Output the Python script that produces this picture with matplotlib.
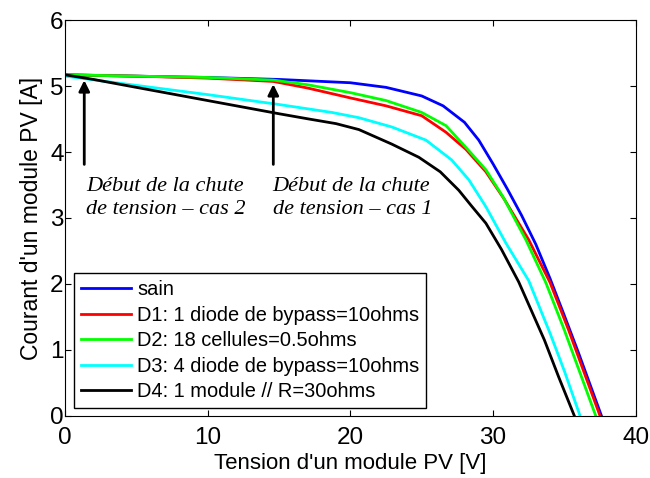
import numpy as np
import matplotlib
matplotlib.use("Agg")
import matplotlib.pyplot as plt

# courbes I-V (tension en V, courant en A)
v_sain = [0, 5, 10, 15, 20, 22.5, 25, 26.5, 28, 29, 30, 31, 32, 33, 34, 35, 36, 37.6]
i_sain = [5.17, 5.15, 5.13, 5.10, 5.05, 4.98, 4.85, 4.70, 4.45, 4.18, 3.82, 3.44, 3.04, 2.60, 2.08, 1.52, 0.95, 0]

v_d1 = [0, 5, 10, 14.6, 17, 20, 22.5, 25, 26.7, 28.1, 29.5, 30.8, 32.5, 34.0, 35.3, 36.4, 37.5]
i_d1 = [5.17, 5.15, 5.12, 5.07, 4.97, 4.82, 4.70, 4.55, 4.30, 4.04, 3.70, 3.28, 2.67, 2.02, 1.30, 0.65, 0]

v_d2 = [0, 5, 10, 14.6, 17, 20, 22.5, 25, 26.7, 28.1, 29.5, 30.7, 32.3, 33.7, 35.0, 36.1, 37.2]
i_d2 = [5.17, 5.15, 5.13, 5.09, 5.02, 4.90, 4.78, 4.60, 4.40, 4.07, 3.73, 3.32, 2.67, 2.02, 1.30, 0.65, 0]

v_d3 = [0, 5, 10, 15, 18.7, 20.6, 22.9, 25.3, 27.1, 28.3, 29.5, 30.9, 32.5, 34.0, 35.0, 36.1]
i_d3 = [5.15, 5.01, 4.87, 4.72, 4.60, 4.52, 4.38, 4.18, 3.88, 3.58, 3.17, 2.62, 2.05, 1.25, 0.68, 0]

v_d4 = [0, 2, 5, 10, 15, 17.1, 19, 20.6, 22.9, 24.8, 26.3, 27.6, 28.5, 29.5, 30.6, 31.8, 33.6, 34.6, 35.7]
i_d4 = [5.17, 5.10, 4.98, 4.78, 4.58, 4.50, 4.43, 4.34, 4.12, 3.92, 3.70, 3.42, 3.18, 2.92, 2.52, 2.03, 1.15, 0.59, 0]

labels = ["sain",
          "D1: 1 diode de bypass=10ohms",
          "D2: 18 cellules=0.5ohms",
          "D3: 4 diode de bypass=10ohms",
          "D4: 1 module // R=30ohms"]
couleurs = ["#0000ff", "#ff0000", "#00ff00", "#00ffff", "#000000"]

plt.rcParams["font.family"] = ["Liberation Sans", "DejaVu Sans"]

fig = plt.figure(figsize=(6.5, 4.78), dpi=100)
ax = fig.add_axes([0.1, 0.13, 0.878, 0.828])

series = [(v_sain, i_sain), (v_d1, i_d1), (v_d2, i_d2), (v_d3, i_d3), (v_d4, i_d4)]
for (v, i), c, lab in zip(series, couleurs, labels):
    ax.plot(v, i, color=c, lw=2, label=lab)

ax.set_xlim(0, 40)
ax.set_ylim(0, 6)
ax.set_xticks(np.arange(0, 41, 10))
ax.set_yticks(np.arange(0, 7, 1))
ax.tick_params(direction="in", top=True, right=True, length=4, labelsize=17.5)
ax.tick_params(axis="x", pad=8)
ax.tick_params(axis="y", pad=1)
ax.set_xlabel("Tension d'un module PV [V]", fontsize=16, labelpad=3)
ax.set_ylabel("Courant d'un module PV [A]", fontsize=16.5, labelpad=5)

# fleches et textes
fleche = dict(arrowstyle="-|>", color="black", lw=2, mutation_scale=16)
ax.annotate("", xy=(1.35, 5.13), xytext=(1.35, 3.77), arrowprops=fleche)
ax.annotate("", xy=(14.6, 5.07), xytext=(14.6, 3.77), arrowprops=fleche)
police_txt = dict(family=["Liberation Serif"], style="italic", fontsize=16)
ax.text(1.5, 3.62, "Début de la chute\nde tension – cas 2", ha="left", va="top",
        linespacing=1.3, **police_txt)
ax.text(14.55, 3.62, "Début de la chute\nde tension – cas 1", ha="left", va="top",
        linespacing=1.3, **police_txt)

leg = ax.legend(loc="lower left", bbox_to_anchor=(0.016, 0.02), borderaxespad=0,
                fontsize=14.4, handlelength=2.5, handletextpad=0.3, labelspacing=0.32,
                borderpad=0.35, fancybox=False, framealpha=1)
leg.get_frame().set_edgecolor("black")
leg.get_frame().set_linewidth(1)

fig.savefig("out.png", dpi=100)
